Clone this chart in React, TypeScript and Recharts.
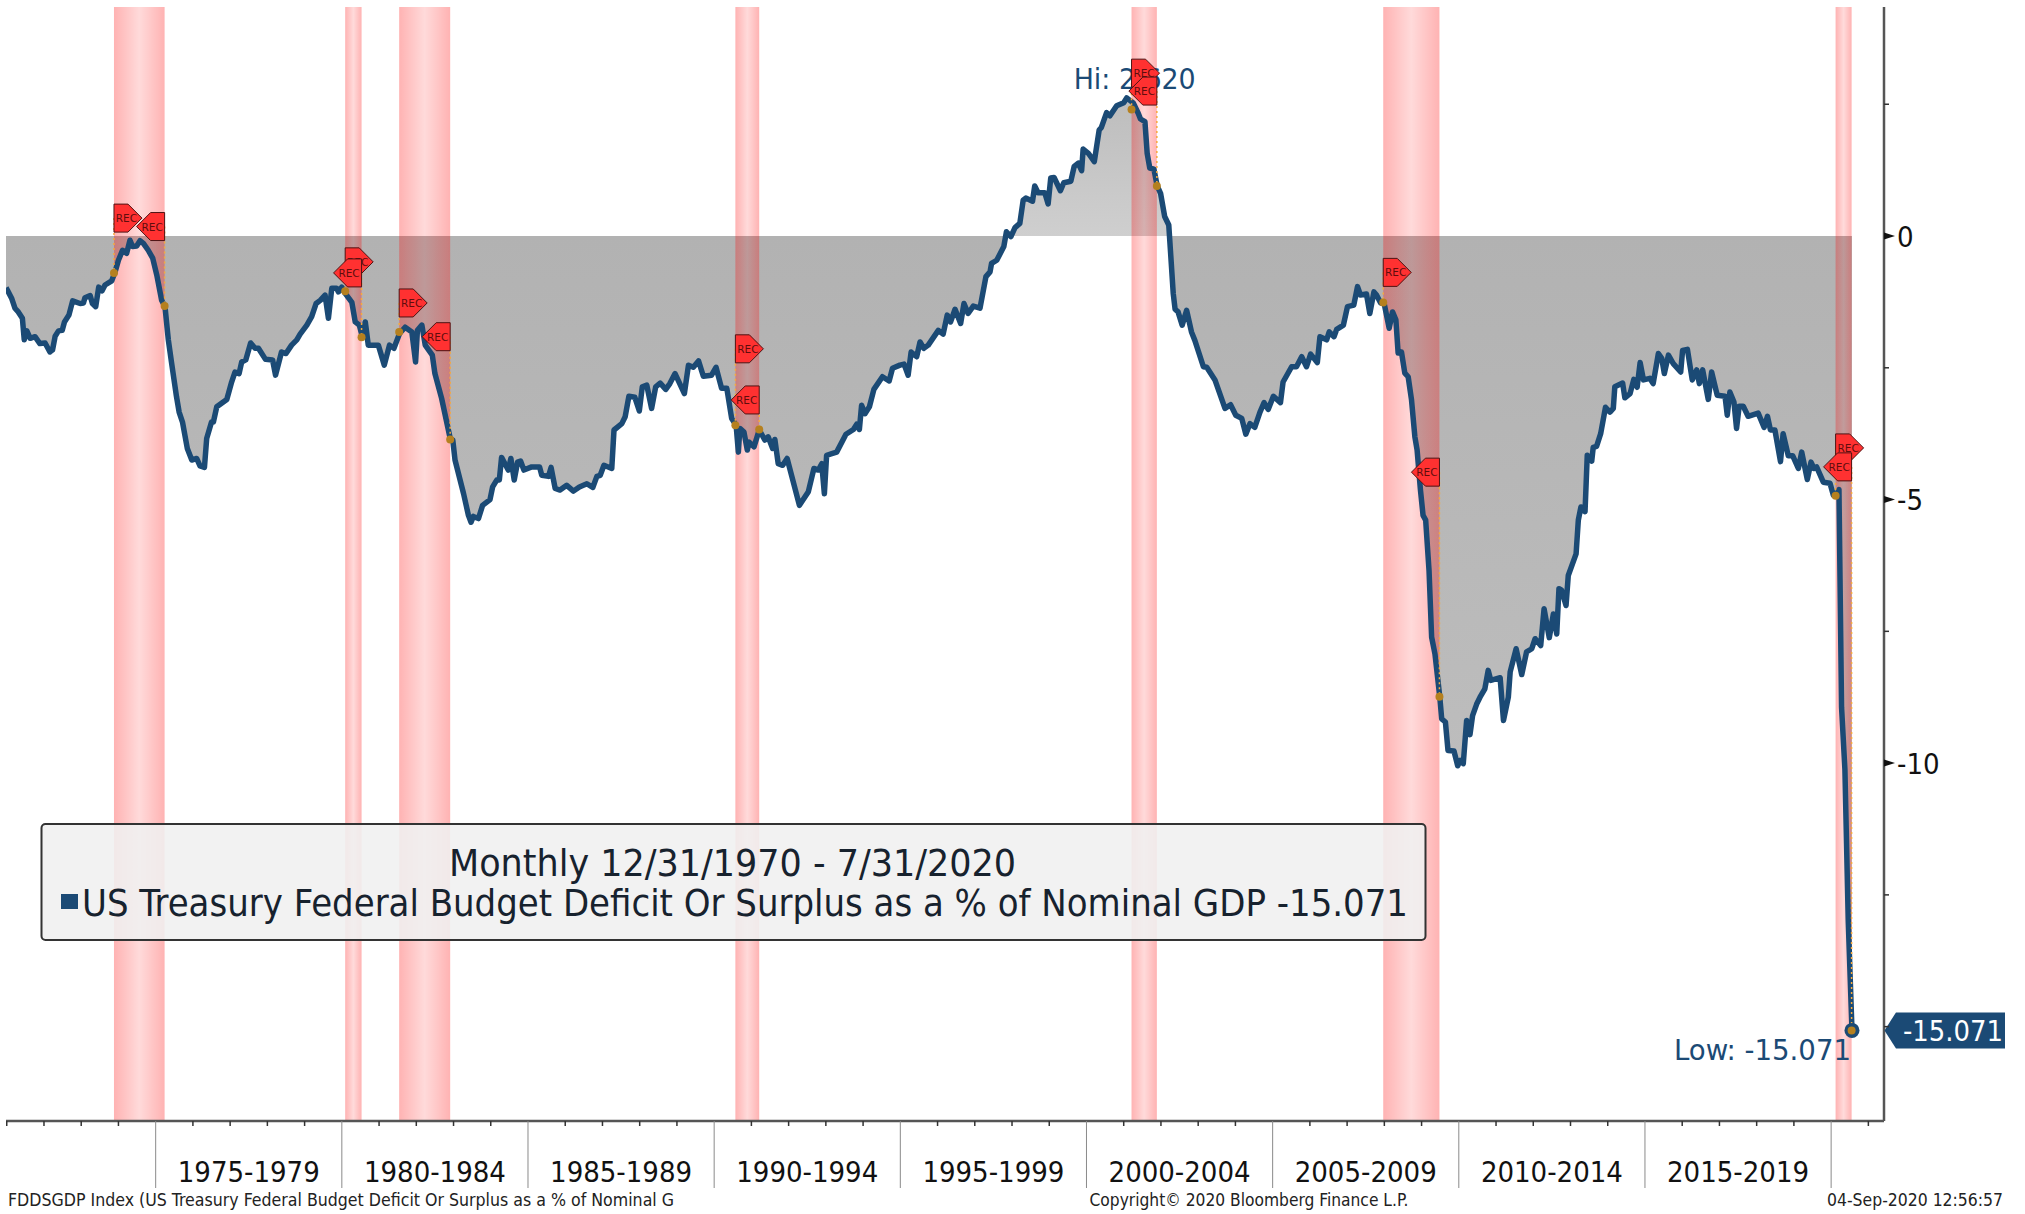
import React from "react";
import { ComposedChart, Area, Line, XAxis, YAxis, ReferenceArea, ReferenceDot, ReferenceLine } from "recharts";

// [year as a decimal, deficit or surplus as % of nominal GDP]
const era1971to1978: [number, number][] = [
  [1970.98,-0.98],[1971.02,-1.03],[1971.13,-1.18],[1971.22,-1.37],[1971.31,-1.44],[1971.42,-1.56],[1971.47,-1.97],[1971.54,-1.80],[1971.63,-1.94],[1971.76,-1.91],
  [1971.89,-2.04],[1972.03,-2.03],[1972.16,-2.20],[1972.23,-2.16],[1972.30,-1.90],[1972.39,-1.80],[1972.49,-1.79],[1972.55,-1.63],[1972.67,-1.50],[1972.77,-1.23],
  [1972.97,-1.28],[1973.06,-1.27],[1973.10,-1.17],[1973.24,-1.13],[1973.30,-1.28],[1973.39,-1.34],[1973.47,-0.97],[1973.56,-1.04],[1973.64,-0.93],[1973.82,-0.85],
  [1973.91,-0.68],[1974.00,-0.46],[1974.11,-0.27],[1974.22,-0.33],[1974.31,-0.08],[1974.38,-0.20],[1974.49,-0.19],[1974.58,-0.09],[1974.67,-0.14],[1974.80,-0.27],
  [1974.92,-0.42],[1975.03,-0.74],[1975.16,-1.22],[1975.25,-1.34],[1975.34,-1.97],[1975.43,-2.42],[1975.56,-3.05],[1975.63,-3.34],[1975.72,-3.53],[1975.85,-4.03],
  [1975.97,-4.25],[1976.10,-4.22],[1976.19,-4.36],[1976.31,-4.39],[1976.37,-3.84],[1976.50,-3.53],[1976.55,-3.53],[1976.64,-3.24],[1976.91,-3.10],[1977.04,-2.77],
  [1977.13,-2.58],[1977.24,-2.61],[1977.31,-2.39],[1977.42,-2.35],[1977.55,-2.03],[1977.67,-2.13],[1977.76,-2.13],[1977.95,-2.34],[1978.14,-2.35],[1978.22,-2.64],
  [1978.38,-2.20],[1978.50,-2.23],[1978.65,-2.07],[1978.79,-1.97],
];
const era1979to1986: [number, number][] = [
  [1978.88,-1.86],[1979.06,-1.69],[1979.19,-1.53],[1979.31,-1.28],[1979.42,-1.22],[1979.55,-1.12],[1979.64,-1.56],[1979.73,-0.99],[1979.86,-0.99],[1979.91,-1.06],
  [1980.00,-0.97],[1980.09,-1.09],[1980.27,-1.26],[1980.36,-1.63],[1980.47,-1.69],[1980.55,-1.91],[1980.63,-1.63],[1980.71,-2.07],[1980.98,-2.07],[1981.14,-2.45],
  [1981.28,-2.07],[1981.40,-2.13],[1981.55,-1.85],[1981.70,-1.73],[1981.88,-1.82],[1981.98,-2.39],[1982.03,-1.79],[1982.15,-1.69],[1982.24,-2.07],[1982.43,-2.26],
  [1982.50,-2.61],[1982.68,-3.08],[1982.91,-3.84],[1982.98,-3.87],[1983.04,-4.25],[1983.27,-4.89],[1983.40,-5.30],[1983.47,-5.43],[1983.53,-5.32],[1983.67,-5.36],
  [1983.78,-5.11],[1983.98,-5.00],[1984.05,-4.76],[1984.16,-4.63],[1984.23,-4.63],[1984.29,-4.20],[1984.47,-4.44],[1984.54,-4.22],[1984.63,-4.63],[1984.72,-4.29],
  [1984.80,-4.27],[1984.89,-4.44],[1985.10,-4.38],[1985.31,-4.38],[1985.37,-4.54],[1985.55,-4.56],[1985.62,-4.39],[1985.73,-4.79],[1985.86,-4.82],[1986.04,-4.73],
  [1986.22,-4.84],[1986.38,-4.76],[1986.58,-4.70],[1986.74,-4.77],[1986.85,-4.56],
];
const era1987to1994: [number, number][] = [
  [1986.94,-4.54],[1987.04,-4.35],[1987.25,-4.41],[1987.31,-3.68],[1987.52,-3.56],[1987.61,-3.43],[1987.71,-3.04],[1987.87,-3.06],[1987.99,-3.32],[1988.07,-2.86],
  [1988.19,-2.83],[1988.32,-3.27],[1988.43,-2.86],[1988.55,-2.79],[1988.70,-2.91],[1988.81,-2.80],[1988.95,-2.61],[1989.20,-2.99],[1989.31,-2.45],[1989.44,-2.49],
  [1989.58,-2.37],[1989.71,-2.66],[1989.93,-2.64],[1990.05,-2.49],[1990.20,-2.89],[1990.34,-2.89],[1990.47,-3.46],[1990.59,-3.59],[1990.65,-4.10],[1990.69,-3.65],
  [1990.80,-3.72],[1990.89,-4.06],[1990.94,-3.91],[1991.07,-4.00],[1991.21,-3.68],[1991.36,-3.87],[1991.45,-3.81],[1991.57,-4.03],[1991.63,-3.86],[1991.72,-4.32],
  [1991.84,-4.35],[1991.96,-4.22],[1992.29,-5.11],[1992.53,-4.85],[1992.68,-4.41],[1992.80,-4.44],[1992.89,-4.32],[1992.96,-4.89],[1993.02,-4.16],[1993.16,-4.13],
  [1993.29,-4.10],[1993.54,-3.76],[1993.74,-3.67],[1993.83,-3.57],[1993.90,-3.67],[1993.96,-3.21],[1994.05,-3.37],[1994.17,-3.24],[1994.29,-2.91],[1994.52,-2.67],
  [1994.70,-2.75],[1994.79,-2.51],
];
const era1995to2002: [number, number][] = [
  [1994.99,-2.45],[1995.10,-2.43],[1995.21,-2.64],[1995.29,-2.20],[1995.44,-2.29],[1995.53,-2.01],[1995.63,-2.13],[1995.75,-2.07],[1996.02,-1.79],[1996.15,-1.86],
  [1996.26,-1.50],[1996.35,-1.63],[1996.47,-1.39],[1996.62,-1.66],[1996.71,-1.28],[1996.82,-1.47],[1996.96,-1.33],[1997.14,-1.37],[1997.30,-0.77],[1997.41,-0.68],
  [1997.45,-0.52],[1997.59,-0.46],[1997.78,-0.20],[1997.85,0.08],[1997.97,-0.01],[1998.08,0.16],[1998.21,0.24],[1998.30,0.68],[1998.37,0.72],[1998.55,0.66],
  [1998.61,0.95],[1998.70,0.82],[1998.88,0.82],[1998.97,0.61],[1999.04,1.10],[1999.13,1.11],[1999.30,0.86],[1999.39,1.01],[1999.58,1.04],[1999.67,1.32],
  [1999.78,1.38],[1999.87,1.24],[1999.91,1.65],[2000.05,1.57],[2000.21,1.41],[2000.34,2.01],[2000.40,2.06],[2000.54,2.34],[2000.63,2.28],[2000.81,2.47],
  [2001.00,2.53],[2001.08,2.62],[2001.21,2.55],[2001.26,2.52],[2001.39,2.33],[2001.45,2.22],[2001.57,2.17],[2001.63,1.57],[2001.70,1.29],[2001.81,1.27],
  [2001.90,0.95],[2001.99,0.81],[2002.10,0.37],[2002.21,0.21],[2002.26,-0.33],[2002.33,-1.09],[2002.38,-1.39],[2002.46,-1.44],[2002.57,-1.69],
];
const era2003to2010: [number, number][] = [
  [2002.69,-1.41],[2002.82,-1.82],[2002.91,-1.98],[2003.14,-2.48],[2003.23,-2.49],[2003.45,-2.73],[2003.72,-3.27],[2003.87,-3.20],[2004.01,-3.40],[2004.17,-3.46],
  [2004.28,-3.76],[2004.39,-3.56],[2004.52,-3.63],[2004.66,-3.34],[2004.77,-3.16],[2004.88,-3.29],[2005.02,-3.04],[2005.21,-3.16],[2005.28,-2.77],[2005.51,-2.48],
  [2005.64,-2.48],[2005.78,-2.29],[2005.91,-2.48],[2006.02,-2.24],[2006.20,-2.40],[2006.27,-1.91],[2006.45,-1.97],[2006.52,-1.82],[2006.65,-1.91],[2006.72,-1.77],
  [2006.90,-1.69],[2007.01,-1.34],[2007.18,-1.31],[2007.28,-0.96],[2007.36,-1.12],[2007.52,-1.10],[2007.61,-1.47],[2007.72,-1.06],[2007.79,-1.12],[2007.90,-1.27],
  [2007.99,-1.26],[2008.13,-1.75],[2008.22,-1.44],[2008.31,-1.59],[2008.37,-2.22],[2008.46,-2.20],[2008.55,-2.60],[2008.64,-2.67],[2008.73,-3.11],[2008.82,-3.81],
  [2008.88,-4.06],[2008.97,-4.82],[2009.04,-5.30],[2009.11,-5.39],[2009.20,-6.34],[2009.27,-7.61],[2009.36,-7.93],[2009.49,-8.75],[2009.54,-9.16],[2009.64,-9.22],
  [2009.71,-9.76],[2009.87,-9.77],[2009.97,-10.05],[2010.04,-9.95],[2010.12,-10.01],[2010.21,-9.19],[2010.30,-9.46],[2010.37,-9.10],[2010.48,-8.88],
];
const era2011to2020: [number, number][] = [
  [2010.57,-8.75],[2010.70,-8.59],[2010.79,-8.24],[2010.86,-8.43],[2011.11,-8.38],[2011.20,-9.19],[2011.33,-8.75],[2011.38,-8.27],[2011.54,-7.83],[2011.69,-8.32],
  [2011.82,-7.89],[2011.96,-7.83],[2012.05,-7.64],[2012.20,-7.77],[2012.29,-7.07],[2012.43,-7.62],[2012.54,-7.17],[2012.63,-7.55],[2012.69,-6.69],[2012.76,-6.72],
  [2012.88,-7.01],[2012.94,-6.44],[2013.15,-6.03],[2013.21,-5.39],[2013.28,-5.14],[2013.39,-5.23],[2013.45,-4.16],[2013.57,-4.27],[2013.61,-4.01],[2013.70,-3.99],
  [2013.81,-3.75],[2013.94,-3.25],[2014.06,-3.34],[2014.15,-3.27],[2014.19,-2.86],[2014.40,-2.79],[2014.46,-3.07],[2014.60,-2.99],[2014.70,-2.72],[2014.79,-2.87],
  [2014.87,-2.40],[2014.96,-2.73],[2015.13,-2.70],[2015.22,-2.80],[2015.36,-2.23],[2015.45,-2.32],[2015.52,-2.61],[2015.63,-2.26],[2015.76,-2.42],[2015.96,-2.58],
  [2016.01,-2.17],[2016.14,-2.15],[2016.27,-2.73],[2016.39,-2.54],[2016.46,-2.80],[2016.55,-2.54],[2016.70,-3.10],[2016.79,-2.58],[2016.94,-3.02],[2017.15,-3.04],
  [2017.21,-3.40],[2017.28,-2.96],[2017.39,-3.15],[2017.46,-3.65],[2017.53,-3.23],[2017.64,-3.23],[2017.77,-3.42],[2018.04,-3.36],[2018.20,-3.63],[2018.29,-3.42],
  [2018.37,-3.68],[2018.49,-3.68],[2018.64,-4.28],[2018.71,-3.75],[2018.85,-4.17],[2018.97,-4.17],[2019.12,-4.41],[2019.21,-4.10],[2019.36,-4.62],[2019.46,-4.29],
  [2019.54,-4.41],[2019.61,-4.38],[2019.79,-4.67],[2019.97,-4.69],[2020.06,-4.92],[2020.13,-4.93],[2020.21,-4.81],[2020.28,-8.94],[2020.37,-10.12],
  [2020.46,-13.0],[2020.56,-15.071],
];

const recessions: [number, number][] = [
  [1973.88,1975.24],[1980.09,1980.53],[1981.54,1982.91],[1990.57,1991.21],[2001.21,2001.89],[2007.97,2009.48],[2020.12,2020.55],
];
// [edge year, flag centre value, value of the dot on the line, direction the flag points]
const recFlags: [number, number, number, "R" | "L"][] = [
  [1973.88,0.34,-0.70,"R"],[1975.24,0.18,-1.33,"L"],[1980.09,-0.49,-1.05,"R"],[1980.53,-0.70,-1.92,"L"],
  [1981.54,-1.27,-1.82,"R"],[1982.91,-1.91,-3.86,"L"],[1990.57,-2.14,-3.59,"R"],[1991.21,-3.11,-3.67,"L"],
  [2001.21,3.09,2.40,"R"],[2001.89,2.75,0.95,"L"],[2007.97,-0.69,-1.26,"R"],[2009.48,-4.48,-8.74,"L"],
  [2020.12,-4.02,-4.93,"R"],[2020.55,-4.38,-15.071,"L"],
];
const yearTicks = [1971,1972,1973,1974,1975,1976,1977,1978,1979,1980,1981,1982,1983,1984,1985,1986,1987,1988,1989,1990,1991,1992,1993,1994,1995,1996,1997,1998,1999,2000,2001,2002,2003,2004,2005,2006,2007,2008,2009,2010,2011,2012,2013,2014,2015,2016,2017,2018,2019,2020,2021];
const periodLabels = ["1975-1979","1980-1984","1985-1989","1990-1994","1995-1999","2000-2004","2005-2009","2010-2014","2015-2019"];
const periodCentres = [1977.5,1982.5,1987.5,1992.5,1997.5,2002.5,2007.5,2012.5,2017.5];
const valueTicks = [2.5,0,-2.5,-5,-7.5,-10,-12.5,-15];
const valueLabels = [0,-5,-10];

const rows = [...era1971to1978,...era1979to1986,...era1987to1994,...era1995to2002,...era2003to2010,...era2011to2020].map(([year,value])=>({year,value}));
const hiPoint = { year: 2001.08, value: 2.62 };
const lowPoint = { year: 2020.56, value: -15.071 };

const FONT = "'DejaVu Sans Condensed','DejaVu Sans',sans-serif";
const NAVY = "#1b4a75";
const INK = "#17222e";

const XTick = (p: any) => {
  const v = p.payload.value;
  const i = periodCentres.indexOf(v);
  if (i >= 0) return <text x={p.x} y={1182} textAnchor="middle" fontFamily={FONT} fontSize={29} fill="#111" textLength={142} lengthAdjust="spacingAndGlyphs">{periodLabels[i]}</text>;
  return v % 5 === 0
    ? <line x1={p.x} x2={p.x} y1={1121} y2={1188} stroke="#8a8a8a" strokeWidth={1} />
    : <line x1={p.x} x2={p.x} y1={1121} y2={1126} stroke="#333" strokeWidth={1.5} />;
};
const YTick = (p: any) => {
  const v = p.payload.value;
  const ax = 1884;
  if (valueLabels.includes(v)) return (
    <g>
      <polygon points={`${ax},${p.y-3.5} ${ax+11},${p.y} ${ax},${p.y+3.5}`} fill="#111" />
      <text x={ax+13} y={p.y+10.5} fontFamily={FONT} fontSize={29} fill="#111">{v}</text>
    </g>
  );
  return <line x1={ax} x2={ax+5} y1={p.y} y2={p.y} stroke="#333" strokeWidth={1.5} />;
};
const Flag = (dir: "R" | "L") => (p: any) => {
  const { cx, cy } = p;
  const s = dir === "R" ? 1 : -1;
  const pts = [[0,-14],[14,-14],[28,0],[14,14],[0,14]].map(([a,b])=>`${cx+s*a},${cy+b}`).join(" ");
  return (
    <g>
      <polygon points={pts} fill="#ff3131" stroke="#4d1414" strokeWidth={1} />
      <text x={cx+s*12.5} y={cy+4} textAnchor="middle" fontFamily="'DejaVu Sans',sans-serif" fontSize={10.5} fill="#5f0d0d">REC</text>
    </g>
  );
};
const HiLabel = (p: any) => <text x={p.cx-53} y={89} fontFamily={FONT} fontSize={29} fill={NAVY} textLength={122} lengthAdjust="spacingAndGlyphs">{`Hi: ${hiPoint.value.toFixed(3)}`}</text>;
const LowMark = (p: any) => (
  <g>
    <circle cx={p.cx} cy={p.cy} r={7.5} fill={NAVY} />
    <circle cx={p.cx} cy={p.cy} r={3} fill="#b5801f" />
    <text x={p.cx-178} y={p.cy+30} fontFamily={FONT} fontSize={29} fill={NAVY} textLength={177} lengthAdjust="spacingAndGlyphs">{`Low: ${lowPoint.value}`}</text>
    <polygon points={`${p.cx+32.5},${p.cy} ${p.cx+44},${p.cy-18} ${p.cx+153},${p.cy-18} ${p.cx+153},${p.cy+18} ${p.cx+44},${p.cy+18}`} fill={NAVY} />
    <text x={p.cx+51} y={p.cy+10.5} fontFamily={FONT} fontSize={29} fill="#fff" textLength={100} lengthAdjust="spacingAndGlyphs">{String(lowPoint.value)}</text>
  </g>
);

export default function App() {
  return (
    <div style={{ position: "absolute", left: 0, top: 0, width: 2025, height: 1214, background: "#fff", overflow: "hidden" }}>
      <ComposedChart width={2025} height={1214} data={rows} margin={{ top: 7, right: 0, bottom: 0, left: 6 }}>
        <defs>
          <linearGradient id="bandFill" x1="0" y1="0" x2="1" y2="0">
            <stop offset="0" stopColor="#ff0000" stopOpacity={0.3} />
            <stop offset="0.5" stopColor="#ff0000" stopOpacity={0.145} />
            <stop offset="1" stopColor="#ff0000" stopOpacity={0.3} />
          </linearGradient>
          <linearGradient id="deficitFill" x1="0" y1="0" x2="0" y2="1">
            <stop offset="0" stopColor="#bdbdbd" />
            <stop offset="0.148" stopColor="#cfcfcf" />
            <stop offset="0.148" stopColor="#b2b2b2" />
            <stop offset="0.713" stopColor="#bdbdbd" />
            <stop offset="1" stopColor="#c4c4c4" />
          </linearGradient>
        </defs>
        <XAxis dataKey="year" type="number" scale="linear" domain={[1970.98, 2021.42]} ticks={[...yearTicks, ...periodCentres]} interval={0} height={93} tickLine={false} tick={XTick} axisLine={{ stroke: "#555", strokeWidth: 2.5 }} allowDataOverflow />
        <YAxis type="number" orientation="right" domain={[-16.79, 4.345]} ticks={valueTicks} interval={0} width={141} tickLine={false} tick={YTick} axisLine={{ stroke: "#555", strokeWidth: 2.5 }} allowDataOverflow />
        <Area dataKey="value" type="linear" baseValue={0} stroke="none" fill="url(#deficitFill)" fillOpacity={1} isAnimationActive={false} dot={false} activeDot={false} zIndex={90} />
        {recessions.map(([a, b]) => (
          <ReferenceArea key={a} x1={a} x2={b} fill="url(#bandFill)" fillOpacity={1} stroke="none" zIndex={95} />
        ))}
        <Line dataKey="value" type="linear" stroke={NAVY} strokeWidth={5.5} dot={false} activeDot={false} isAnimationActive={false} strokeLinejoin="round" />
        <ReferenceDot x={hiPoint.year} y={hiPoint.value} r={0} shape={HiLabel} ifOverflow="visible" />
        <ReferenceDot x={lowPoint.year} y={lowPoint.value} r={0} shape={LowMark} ifOverflow="visible" />
        {recFlags.map(([x, fv, dv]) => (
          <ReferenceLine key={`l${x}`} segment={[{ x, y: fv }, { x, y: dv }]} stroke="#f7a93b" strokeWidth={1.5} strokeDasharray="2 3" ifOverflow="visible" />
        ))}
        {recFlags.map(([x, , dv]) => (
          <ReferenceDot key={`d${x}`} x={x} y={dv} r={4} fill="#b5801f" stroke="none" ifOverflow="visible" />
        ))}
        {recFlags.map(([x, fv, , dir]) => (
          <ReferenceDot key={`f${x}`} x={x} y={fv} r={0} shape={Flag(dir)} ifOverflow="visible" />
        ))}
      </ComposedChart>
      <svg width={2025} height={1214} style={{ position: "absolute", left: 0, top: 0, pointerEvents: "none" }}>
        <rect x={41.5} y={824} width={1384} height={116} rx={4} fill="#f0f0f0" fillOpacity={0.88} stroke="#333" strokeWidth={2} />
        <text x={449} y={876} fontFamily={FONT} fontSize={38} fill={INK} textLength={567} lengthAdjust="spacingAndGlyphs">Monthly 12/31/1970 - 7/31/2020</text>
        <rect x={61} y={894} width={17} height={15} fill={NAVY} />
        <text x={82} y={916} fontFamily={FONT} fontSize={38} fill={INK} textLength={1326} lengthAdjust="spacingAndGlyphs">US Treasury Federal Budget Deficit Or Surplus as a % of Nominal GDP -15.071</text>
        <text x={8} y={1206} fontFamily={FONT} fontSize={17} fill="#222" textLength={666} lengthAdjust="spacingAndGlyphs">FDDSGDP Index (US Treasury Federal Budget Deficit Or Surplus as a % of Nominal G</text>
        <text x={1089.5} y={1206} fontFamily={FONT} fontSize={17} fill="#222" textLength={319} lengthAdjust="spacingAndGlyphs">Copyright© 2020 Bloomberg Finance L.P.</text>
        <text x={1827} y={1206} fontFamily={FONT} fontSize={17} fill="#222" textLength={176} lengthAdjust="spacingAndGlyphs">04-Sep-2020 12:56:57</text>
      </svg>
    </div>
  );
}
